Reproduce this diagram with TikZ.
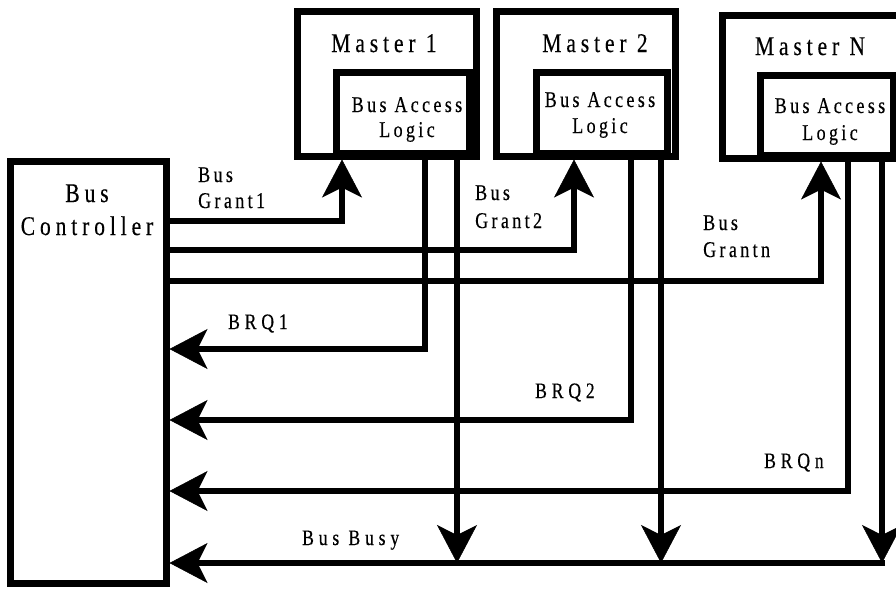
\documentclass[tikz,border=0pt]{standalone}
\usepackage{fontspec}
\setmainfont{Liberation Serif}[FakeStretch=0.8,LetterSpace=15,FakeBold=0.35]
\usetikzlibrary{arrows.meta}
\tikzset{
  box/.style={draw, rectangle, line width=7pt, inner sep=0pt},
  conn/.style={line width=6pt},
  tipend/.style={-{Stealth[length=38pt,width=40pt,inset=10pt,line width=0.5pt]}},
  bigtxt/.style={inner sep=0pt, font=\fontsize{27}{31}\selectfont\addfontfeatures{LetterSpace=18}},
  midtxt/.style={inner sep=0pt, font=\fontsize{22.5}{26}\selectfont},
  smalltxt/.style={inner sep=0pt, font=\fontsize{22}{26}\selectfont\addfontfeatures{LetterSpace=22}},
}
\begin{document}
\begin{tikzpicture}[x=1pt,y=-1pt]
\path[use as bounding box, clip] (0,0) rectangle (896,590);
\fill[white] (0,0) rectangle (896,590);
% boxes
\node[box, minimum width=156pt, minimum height=422pt] (bc) at (88,372) {};
\node[box, minimum width=179pt, minimum height=145pt] (m1) at (386.5,83.5) {};
\node[box, minimum width=133pt, minimum height=81pt] (m1l) at (402.5,112.5) {};
\node[box, minimum width=179pt, minimum height=145pt] (m2) at (585.5,83.5) {};
\node[box, minimum width=131pt, minimum height=81pt] (m2l) at (601.5,112.5) {};
\node[box, minimum width=183pt, minimum height=143pt] (mn) at (813.5,86.5) {};
\node[box, minimum width=133pt, minimum height=80pt] (mnl) at (826.5,115) {};
% box texts
\node[bigtxt, anchor=base] (tbc1) at (87,202) {Bus};
\node[bigtxt, anchor=base] (tbc2) at (87,235) {Controller};
\node[bigtxt, anchor=base] (tm1) at (384,52) {Master 1};
\node[bigtxt, anchor=base] (tm2) at (595,52) {Master 2};
\node[bigtxt, anchor=base] (tmn) at (810,55) {Master N};
\node[midtxt, anchor=base] (tl1a) at (407,112) {Bus Access};
\node[midtxt, anchor=base] (tl1b) at (407,137) {Logic};
\node[midtxt, anchor=base] (tl2a) at (600,107) {Bus Access};
\node[midtxt, anchor=base] (tl2b) at (600,133) {Logic};
\node[midtxt, anchor=base] (tlna) at (830,113) {Bus Access};
\node[midtxt, anchor=base] (tlnb) at (830,140) {Logic};
% signal labels
\node[midtxt, anchor=base west] (tg1a) at (198,182) {Bus};
\node[midtxt, anchor=base west] (tg1b) at (198,208) {Grant1};
\node[midtxt, anchor=base west] (tg2a) at (475,200) {Bus};
\node[midtxt, anchor=base west] (tg2b) at (475,228) {Grant2};
\node[midtxt, anchor=base west] (tgna) at (703,230) {Bus};
\node[midtxt, anchor=base west] (tgnb) at (703,257) {Grantn};
\node[smalltxt, anchor=base west] (tr1) at (228,329) {BRQ1};
\node[smalltxt, anchor=base west] (tr2) at (535,398) {BRQ2};
\node[smalltxt, anchor=base west] (trn) at (764,468) {BRQn};
\node[smalltxt, anchor=base west] (tbb) at (302,545) {Bus Busy};
% coordinates
\coordinate (g1) at (342,221);
\coordinate (g2) at (574,250);
\coordinate (gn) at (821,281);
\coordinate (r1) at (425,349);
\coordinate (r2) at (631,420);
\coordinate (rn) at (848,491);
\coordinate (b1) at (457,563);
\coordinate (b2) at (661,563);
\coordinate (bn) at (882,563);
\coordinate (bend) at (885,563);
% grants
\draw[conn,tipend] (bc.east |- g1) -| (g1 |- m1.south);
\draw[conn,tipend] (bc.east |- g2) -| (g2 |- m2.south);
\draw[conn,tipend] (bc.east |- gn) -| (gn |- mn.south);
% requests
\draw[conn,tipend] (r1 |- m1.south) |- (bc.east |- r1);
\draw[conn,tipend] (r2 |- m2.south) |- (bc.east |- r2);
\draw[conn,tipend] (rn |- mn.south) |- (bc.east |- rn);
% bus busy
\draw[conn,tipend] (b1 |- m1.south) -- (b1);
\draw[conn,tipend] (b2 |- m2.south) -- (b2);
\draw[conn,tipend] (bn |- mn.south) -- (bn);
\draw[conn,tipend] (bend) -- (bc.east |- bend);
\end{tikzpicture}
\end{document}
